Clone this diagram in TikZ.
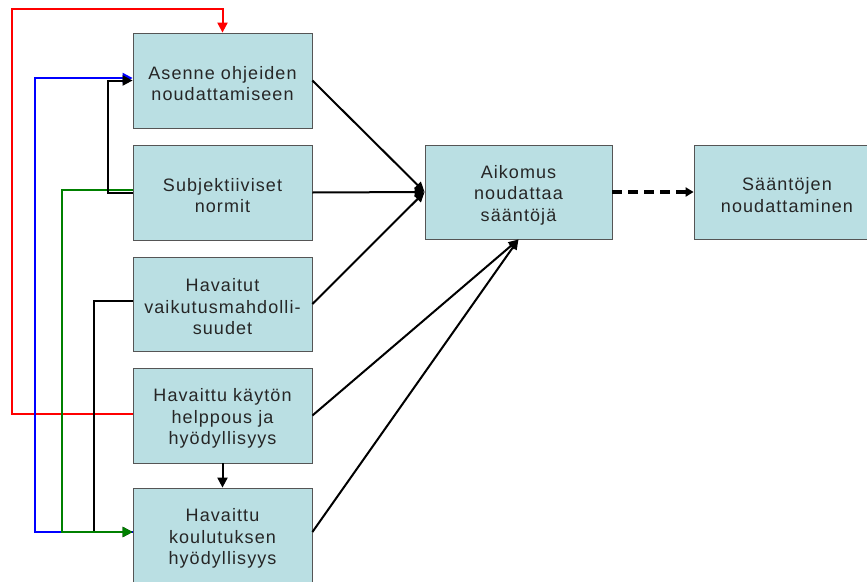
\documentclass[tikz,border=0pt]{standalone}
\usepackage{fontspec}
\setmainfont{Liberation Sans}[LetterSpace=6]
\usetikzlibrary{arrows.meta}
\definecolor{boxfill}{HTML}{BADFE3}
\definecolor{boxline}{HTML}{555555}
\definecolor{gr}{HTML}{008000}
\definecolor{bl}{HTML}{0000FF}
\definecolor{rd}{HTML}{FF0000}
\begin{document}
\begin{tikzpicture}[x=1pt,y=-1pt,
  box/.style={draw=boxline, line width=0.8pt, fill=boxfill, minimum width=179pt,
    minimum height=95pt, inner sep=0pt},
  txt/.style={align=center, inner sep=0pt,
    font=\fontsize{18}{21.5}\selectfont, text=black!85},
  conn/.style={line width=2pt, -{Triangle[length=10pt,width=10pt]}},
  diag/.style={line width=2pt, -{Triangle[length=10pt,width=9pt]}},
  dashconn/.style={line width=3.5pt, dash pattern=on 10pt off 6pt, -{Triangle[length=8pt,width=9pt]}}
]
\useasboundingbox (0,0) rectangle (867,581);
\node[box] (b1) at (222.5,80.5) {};
\node[box] (b2) at (222.5,192.5) {};
\node[box, minimum height=94pt] (b3) at (222.5,304) {};
\node[box] (b4) at (222.5,415.5) {};
\node[box] (b5) at (222.5,535.5) {};
\node[box, minimum width=187pt, minimum height=94pt] (aik) at (518.5,192) {};
\node[box, minimum width=186pt, minimum height=94pt] (saa) at (787,192) {};

\node[txt] (t1) at ([yshift=-3]b1.center) {Asenne ohjeiden\\noudattamiseen};
\node[txt] (t2) at ([yshift=-3]b2.center) {Subjektiiviset\\normit};
\node[txt] (t3) at ([yshift=-3]b3.center) {Havaitut\\vaikutusmahdolli-\\suudet};
\node[txt] (t4) at ([yshift=-3]b4.center) {Havaittu käytön\\helppous ja\\hyödyllisyys};
\node[txt] (t5) at ([yshift=-3]b5.center) {Havaittu\\koulutuksen\\hyödyllisyys};
\node[txt] (ta) at ([yshift=-3]aik.center) {Aikomus\\noudattaa\\sääntöjä};
\node[txt] (ts) at ([yshift=-3]saa.center) {Sääntöjen\\noudattaminen};

\coordinate (rc) at (12,9);
\coordinate (bc) at (35,78);
\coordinate (gc) at (62,532);
\coordinate (kc1) at (108,80);
\coordinate (kc2) at (94,532);

% red: b4 -> b1
\draw[conn, rd] ([yshift=1.5]b4.west) -| (rc) -| (b1.north);
% blue: b5 -> b1
\draw[conn, bl] ([yshift=3.5]b5.west) -| (bc) |- ([yshift=2.5]b1.west);
% black: b3 -> b5
\draw[conn, black] ([yshift=3]b3.west) -| (kc2) |- ([yshift=3.5]b5.west);
% green: b2 -> b5
\draw[conn, gr] ([yshift=2.5]b2.west) -| (gc) |- ([yshift=3.5]b5.west);
% black: b2 -> b1
\draw[conn, black] (b2.west) -| (kc1) |- (b1.west);
% black: b4 -> b5
\draw[conn, black] (b4.south) -- (b5.north);

% diagonals
\draw[diag] (b1.east) -- (aik.west);
\draw[diag] (b2.east) -- (aik.west);
\draw[diag] (b3.east) -- (aik.west);
\draw[diag] (b4.east) -- (aik.south);
\draw[diag] ([yshift=3.5]b5.east) -- (aik.south);

% dashed
\draw[dashconn] (aik.east) -- (saa.west);
\end{tikzpicture}
\end{document}
